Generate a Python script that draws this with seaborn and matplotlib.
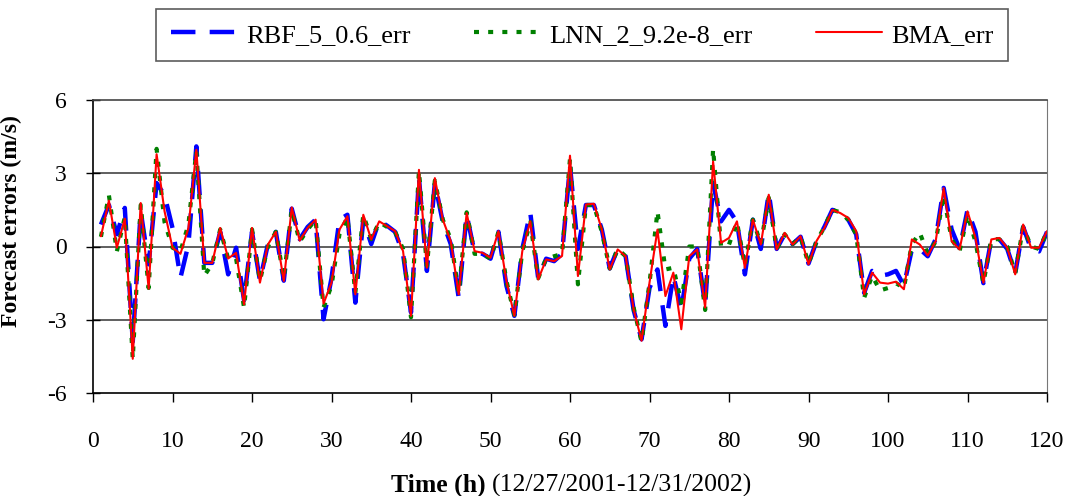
import numpy as np
import pandas as pd
import matplotlib
matplotlib.use("Agg")
import matplotlib.pyplot as plt
import seaborn as sns

hours = list(range(1, 121))

bma = [0.42, 1.88, -0.05, 1.14, -4.6, 1.78, -1.73, 3.78, 1.44, -0.05,
       -0.3, 0.76, 3.96, -0.67, -0.67, 0.76, -0.49, -0.26, -2.37, 0.76,
       -1.48, 0.08, 0.6, -1.41, 1.6, 0.24, 0.76, 1.1, -2.34, -1.48,
       0.69, 1.24, -1.96, 1.3, 0.29, 1.03, 0.83, 0.63, -0.19, -2.84,
       3.14, -0.87, 2.8, 1.1, 0.22, -1.96, 1.37, -0.19, -0.26, -0.46,
       0.63, -1.41, -2.84, -0.19, 1.03, -1.35, -0.53, -0.6, -0.39, 3.72,
       -1.21, 1.72, 1.75, 0.7, -0.94, -0.12, -0.4, -2.57, -3.86, -1.48,
       0.69, -2.03, -1.07, -3.39, -0.4, -0.12, -2.5, 3.48, 0.15, 0.35,
       1.03, -0.87, 1.1, 0.08, 2.12, -0.12, 0.56, 0.08, 0.42, -0.73,
       0.22, 0.76, 1.5, 1.37, 1.17, 0.63, -1.96, -1.07, -1.48, -1.52,
       -1.44, -1.75, 0.29, 0.08, -0.37, 0.22, 2.39, 0.22, -0.12, 1.44,
       0.35, -1.48, 0.29, 0.35, -0.05, -1.14, 0.9, -0.05, -0.05, 0.63]

rbf = [0.9, 1.7, 0.5, 1.58, -3.9, 1.44, -0.73, 2.6, 2.1, 0.76,
       -1.28, 0.08, 4.1, -0.67, -0.67, 0.6, -1.14, -0.05, -2.2, 0.6,
       -1.4, 0.1, 0.6, -1.4, 1.55, 0.3, 0.8, 1.1, -2.98, -1.3,
       1.1, 1.3, -2.3, 1.1, 0.1, 1.05, 0.85, 0.6, -0.3, -2.7,
       2.8, -1.0, 2.6, 1.0, 0.1, -2.1, 1.3, -0.25, -0.3, -0.5,
       0.6, -1.6, -2.84, -0.1, 1.4, -1.3, -0.5, -0.6, -0.3, 3.3,
       -0.1, 1.7, 1.7, 0.7, -0.9, -0.1, -0.4, -2.6, -3.8, -1.7,
       -0.94, -3.25, -1.2, -2.57, -0.5, -0.1, -2.4, 2.6, 1.03, 1.5,
       1.0, -1.14, 1.1, -0.1, 2.2, -0.1, 0.5, 0.1, 0.4, -0.7,
       0.2, 0.8, 1.5, 1.4, 1.1, 0.5, -1.9, -1.0, -1.2, -1.14,
       -1.0, -1.6, -0.12, -0.1, -0.4, 0.3, 2.4, 0.7, -0.1, 1.5,
       0.6, -1.5, 0.3, 0.3, -0.1, -1.1, 0.8, -0.1, -0.2, 0.6]

lnn = [0.4, 2.1, -0.2, 1.2, -4.6, 1.7, -1.7, 4.0, 1.0, -0.05,
       -0.2, 0.9, 3.9, -1.2, -0.7, 0.7, -0.5, -0.5, -2.5, 0.7,
       -1.4, 0.0, 0.6, -1.3, 1.5, 0.2, 0.7, 1.1, -2.5, -1.6,
       0.5, 1.2, -1.9, 1.3, 0.3, 1.0, 0.8, 0.6, -0.1, -2.9,
       3.1, -0.8, 2.7, 1.1, 0.3, -1.9, 1.4, -0.3, -0.3, -0.5,
       0.6, -1.4, -2.8, -0.2, 1.0, -1.3, -0.5, -0.4, -0.3, 3.6,
       -1.55, 1.7, 1.7, 0.6, -0.9, -0.1, -0.4, -2.5, -3.9, -1.5,
       1.44, -0.94, -0.87, -2.3, 0.0, 0.0, -2.6, 4.0, 0.0, 0.08,
       1.0, -0.8, 1.1, 0.1, 2.0, -0.1, 0.5, 0.1, 0.4, -0.7,
       0.2, 0.8, 1.5, 1.4, 1.1, 0.5, -2.1, -1.2, -1.8, -1.7,
       -1.5, -1.7, 0.1, 0.56, -0.3, 0.2, 2.1, 0.3, -0.2, 1.3,
       0.2, -1.5, 0.3, 0.3, 0.0, -1.1, 0.8, 0.0, -0.1, 0.6]

series_names = ["RBF_5_0.6_err", "LNN_2_9.2e-8_err", "BMA_err"]

df = pd.DataFrame({"hour": hours, series_names[0]: rbf,
                   series_names[1]: lnn, series_names[2]: bma})
long = df.melt(id_vars="hour", var_name="series", value_name="err")

sns.set_style("white")
plt.rcParams["font.family"] = ["Liberation Serif", "DejaVu Serif"]
plt.rcParams["text.color"] = "black"
plt.rcParams["axes.labelcolor"] = "black"
plt.rcParams["xtick.color"] = "black"
plt.rcParams["ytick.color"] = "black"

fig = plt.figure(figsize=(10.73, 4.96), dpi=100)
ax = fig.add_axes([93 / 1073, 1 - 393 / 496, (1047 - 93) / 1073, (393 - 100) / 496])

styles = {
    series_names[0]: dict(color="#0000ff", lw=3.2, dashes=(5.5, 3.2)),
    series_names[1]: dict(color="#008000", lw=3.0, dashes=(1.2, 2.2)),
    series_names[2]: dict(color="#ff0000", lw=1.5, dashes=None),
}
for name in series_names:
    st = styles[name]
    sub = long[long["series"] == name]
    sns.lineplot(x="hour", y="err", data=sub, ax=ax, color=st["color"],
                 linewidth=st["lw"], label=name)
    ln = ax.get_lines()[-1]
    if st["dashes"] is not None:
        ln.set_dashes(st["dashes"])

ax.set_xlim(0, 120)
ax.set_ylim(-6, 6)
ax.set_xticks(range(0, 121, 10))
ax.set_yticks([-6, -3, 0, 3, 6])
ax.set_yticklabels(["-6", "-3", "0", "3", "6"])
for yv in (-3, 0, 3):
    ax.axhline(yv, color="#444444", lw=1.2, zorder=0)
for s in ["left", "bottom", "top"]:
    ax.spines[s].set_color("black")
    ax.spines[s].set_linewidth(1.2)
ax.spines["right"].set_color("#777777")
ax.spines["top"].set_color("#444444")
ax.tick_params(axis="x", labelsize=17, direction="out", length=6.5, width=1,
               colors="black", labelcolor="black", bottom=True, pad=21)
ax.tick_params(axis="y", labelsize=17, direction="inout", length=10, width=1,
               colors="black", labelcolor="black", left=True, pad=14)
ax.set_xlabel("")
ax.set_ylabel("Forecast errors (m/s)", fontsize=17, fontweight="bold", color="black")
ax.yaxis.set_label_coords((22 - 93) / 954, (393 - 221) / 293)

fig.text(486 / 1073, 1 - 485 / 496, "Time (h)", fontsize=18.5, fontweight="bold",
         ha="right", va="center", color="black")
fig.text(492 / 1073, 1 - 485 / 496, "(12/27/2001-12/31/2002)", fontsize=18.5,
         ha="left", va="center", color="black")

handles, labels = ax.get_legend_handles_labels()
leg = fig.legend(handles, labels, loc="center", ncol=3,
                 bbox_to_anchor=(582 / 1073, 1 - 35 / 496), fontsize=19,
                 frameon=True, fancybox=False, edgecolor="#333333",
                 handlelength=2.5, columnspacing=2.4, borderpad=0.55,
                 handletextpad=0.35, labelcolor="black")
leg.get_frame().set_linewidth(1.2)
if ax.get_legend() is not None:
    ax.get_legend().remove()

fig.savefig("out.png", dpi=100)
